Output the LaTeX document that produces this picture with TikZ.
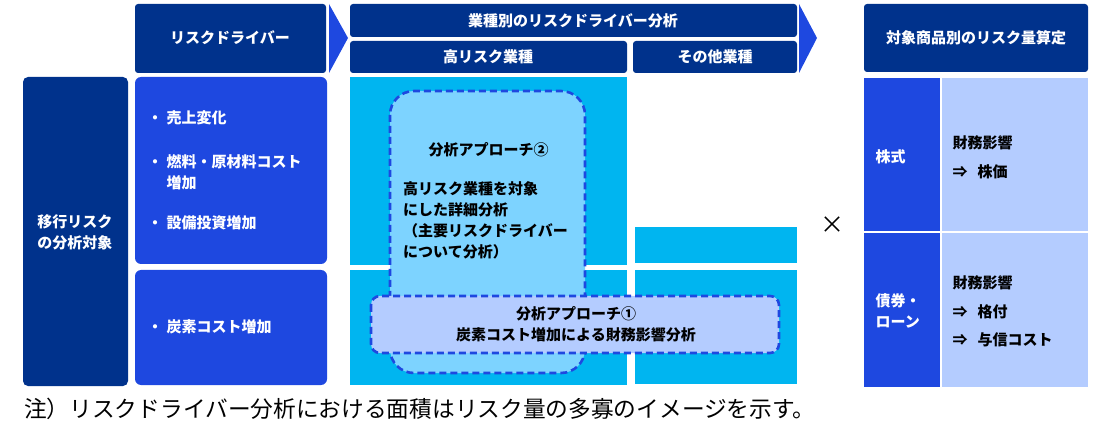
\documentclass[tikz,border=0pt]{standalone}
\usepackage{fontspec}
\setmainfont{Noto Sans CJK JP}
\definecolor{navy}{RGB}{0,50,140}
\definecolor{midblue}{RGB}{30,72,224}
\definecolor{skyblue}{RGB}{0,181,240}
\definecolor{paleblue}{RGB}{125,211,255}
\definecolor{lavblue}{RGB}{180,204,255}
\newcommand{\bul}{\makebox[0pt][r]{・\hspace{4pt}}}

\begin{document}
\begin{tikzpicture}[x=1pt,y=-1pt,
  txt/.style={font=\fontsize{15}{21}\selectfont\bfseries},
  wtxt/.style={txt,white},
  approach/.style={draw=midblue,line width=2.6pt,dash pattern=on 7pt off 4pt}]
  \useasboundingbox (0,0) rectangle (1112,422);

  % headers
  \draw[fill=navy,draw=none,rounded corners=3pt] (135,4) rectangle (326,73);
  \draw[fill=navy,draw=none,rounded corners=3pt] (350,4) rectangle (797,37);
  \draw[fill=navy,draw=none,rounded corners=3pt] (350,41) rectangle (627,73);
  \draw[fill=navy,draw=none,rounded corners=3pt] (633,41) rectangle (797,73);
  \draw[fill=navy,draw=none,rounded corners=3pt] (864,4) rectangle (1088,72);
  \fill[midblue] (329,4) -- (348,38) -- (329,73) -- cycle;
  \fill[midblue] (799,4) -- (817,38) -- (799,73) -- cycle;
  \node[wtxt] (drv) at (230,38) {リスクドライバー};
  \node[wtxt] (ind) at (573,21) {業種別のリスクドライバー分析};
  \node[wtxt] (high) at (488,57) {高リスク業種};
  \node[wtxt] (other) at (715,57) {その他業種};
  \node[wtxt] (calc) at (976,38) {対象商品別のリスク量算定};

  % left columns
  \draw[fill=navy,draw=none,rounded corners=5pt] (23,77) rectangle (128,386);
  \draw[fill=midblue,draw=none,rounded corners=6pt] (135,77) rectangle (327,264);
  \draw[fill=midblue,draw=none,rounded corners=6pt] (135,270) rectangle (327,385);
  \node[wtxt,align=center] (target) at (75,232) {移行リスク\\の分析対象};
  \node[wtxt,anchor=west] (sales) at (163,118) {\bul 売上変化};
  \node[wtxt,anchor=west,align=left] (fuel) at (163,172) {\bul 燃料・原材料コスト\\増加};
  \node[wtxt,anchor=west] (capex) at (163,223) {\bul 設備投資増加};
  \node[wtxt,anchor=west] (carbon) at (163,327) {\bul 炭素コスト増加};

  % areas by industry
  \fill[skyblue] (350,77) rectangle (627,265);
  \fill[skyblue] (350,270) rectangle (627,385);
  \fill[skyblue] (635,227) rectangle (797,263);
  \fill[skyblue] (635,270) rectangle (797,384);

  \draw[approach,fill=paleblue,rounded corners=24pt] (390,91) rectangle (585,373);
  \draw[approach,fill=lavblue,rounded corners=9pt] (371,296) rectangle (779,353);
  \node[txt,anchor=west] (ap2) at (425,150) {分析アプローチ②};
  \node[txt,anchor=north west,align=left,inner sep=0pt] (ap2txt) at (403,181)
    {高リスク業種を対象\\にした詳細分析\\（主要リスクドライバー\\について分析）};
  \node[txt,align=center] (ap1) at (576,324) {分析アプローチ①\\炭素コスト増加による財務影響分析};

  \node[font=\fontsize{24}{24}\selectfont] (times) at (832,225) {×};

  % products
  \fill[midblue] (864,78) rectangle (940,231);
  \fill[lavblue] (942,78) rectangle (1088,231);
  \fill[midblue] (864,233) rectangle (940,387);
  \fill[lavblue] (942,233) rectangle (1088,387);
  \node[wtxt,anchor=west] (stock) at (872,157) {株式};
  \node[wtxt,anchor=west,align=left] (bond) at (872,311) {債券・\\ローン};
  \node[txt,anchor=west,align=left] (stockfx) at (949,157) {財務影響\\[8pt]⇒\hspace{10pt}株価};
  \node[txt,anchor=west,align=left] (bondfx) at (949,311) {財務影響\\[8pt]⇒\hspace{10pt}格付\\[7pt]⇒\hspace{10pt}与信コスト};

  % note
  \node[anchor=west,font=\fontsize{22.7}{24}\selectfont,inner sep=0pt] (note) at (24,409)
    {注）リスクドライバー分析における面積はリスク量の多寡のイメージを示す。};
\end{tikzpicture}
\end{document}
